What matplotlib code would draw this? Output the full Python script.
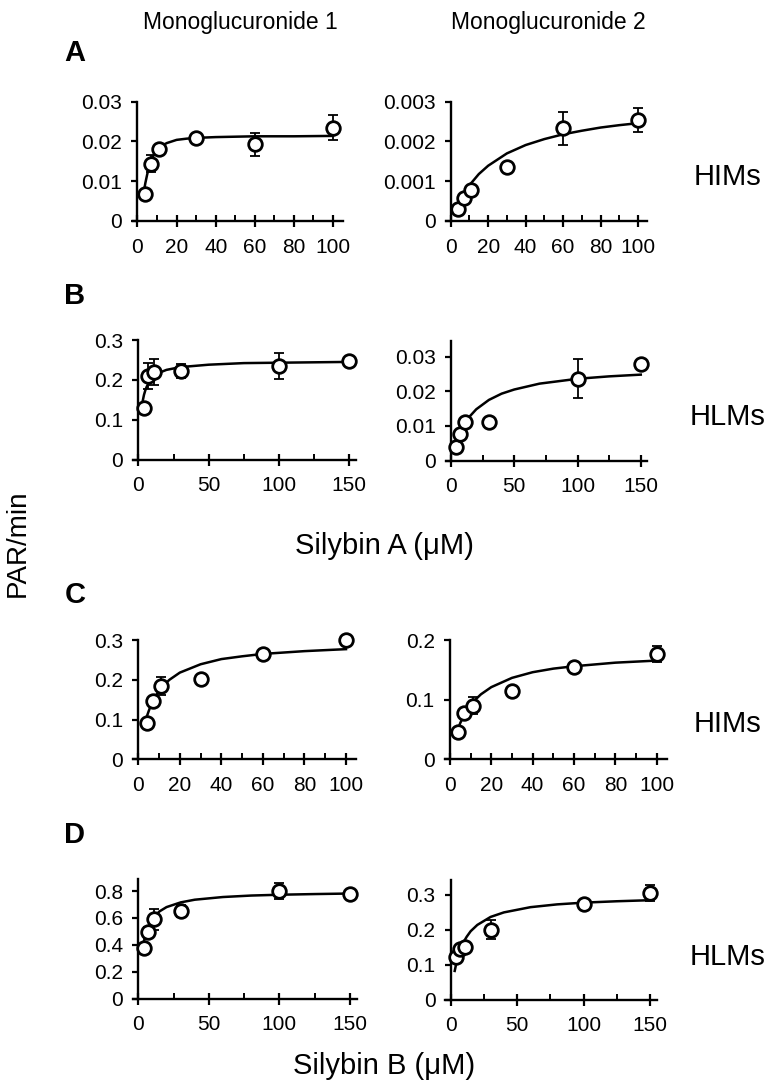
import numpy as np
import matplotlib.pyplot as plt
from matplotlib.ticker import FixedLocator

plt.rcParams['font.family'] = ['Liberation Sans', 'DejaVu Sans']

W, H = 771, 1089

# silybin concentrations (uM)
conc_100 = [4, 7, 11, 30, 60, 100]
conc_150 = [4, 7, 11, 30, 100, 150]

# measured rates (PAR/min) and SD, one list per panel
a1_y = [0.0068, 0.0144, 0.0180, 0.0209, 0.0193, 0.0235]
a1_err = [0, 0.0021, 0, 0, 0.0029, 0.0031]
a2_y = [0.00030, 0.00059, 0.00079, 0.00137, 0.00233, 0.00254]
a2_err = [0, 0, 0, 0, 0.00042, 0.00030]
b1_y = [0.130, 0.210, 0.220, 0.222, 0.235, 0.247]
b1_err = [0, 0.033, 0.033, 0.017, 0.033, 0]
b2_y = [0.0040, 0.0076, 0.0111, 0.0111, 0.0236, 0.0279]
b2_err = [0, 0, 0, 0, 0.0056, 0]
c1_y = [0.092, 0.147, 0.184, 0.203, 0.266, 0.300]
c1_err = [0, 0, 0.023, 0, 0, 0]
c2_y = [0.045, 0.078, 0.090, 0.115, 0.155, 0.1765]
c2_err = [0, 0, 0.014, 0, 0, 0.014]
d1_y = [0.376, 0.494, 0.589, 0.652, 0.802, 0.777]
d1_err = [0, 0.04, 0.08, 0.045, 0.06, 0.03]
d2_y = [0.122, 0.146, 0.150, 0.200, 0.274, 0.307]
d2_err = [0, 0, 0, 0.027, 0.010, 0.023]

# fitted curves
a1_cx = [3, 4, 5, 6, 7, 8, 10, 12, 15, 20, 25, 30, 40, 60, 80, 100]
a1_cy = [0.0066, 0.0095, 0.0118, 0.0137, 0.0151, 0.0163, 0.0178, 0.0188,
         0.0196, 0.0204, 0.0207, 0.0209, 0.0211, 0.0213, 0.0213, 0.0214]
a2_cx = [3, 5, 7, 10, 15, 20, 30, 40, 50, 60, 70, 80, 90, 100]
a2_cy = [0.00034, 0.00053, 0.00069, 0.00090, 0.00118, 0.00139, 0.00170,
         0.00191, 0.00206, 0.00218, 0.00227, 0.00235, 0.00241, 0.00246]
b1_cx = [3, 4, 5, 6, 8, 10, 15, 20, 30, 50, 75, 100, 125, 150]
b1_cy = [0.145, 0.162, 0.174, 0.183, 0.196, 0.205, 0.218, 0.225, 0.232,
         0.238, 0.242, 0.243, 0.244, 0.245]
b2_cx = [3, 5, 7, 10, 15, 20, 30, 40, 50, 70, 100, 125, 150]
b2_cy = [0.0040, 0.0061, 0.0079, 0.0101, 0.0128, 0.0148, 0.0175, 0.0193,
         0.0205, 0.0222, 0.0236, 0.0243, 0.0248]
c1_cx = [3, 4, 5, 6, 8, 10, 12, 15, 20, 30, 40, 50, 60, 80, 100]
c1_cy = [0.087, 0.106, 0.121, 0.135, 0.156, 0.172, 0.185, 0.200, 0.218,
         0.239, 0.252, 0.259, 0.265, 0.272, 0.277]
c2_cx = [3, 4, 5, 6, 8, 10, 12, 15, 20, 30, 40, 50, 60, 80, 100]
c2_cy = [0.042, 0.052, 0.061, 0.068, 0.081, 0.091, 0.099, 0.109, 0.121,
         0.1365, 0.146, 0.152, 0.156, 0.162, 0.1655]
d1_cx = [3, 4, 5, 6, 8, 10, 12, 15, 20, 30, 40, 60, 80, 100, 125, 150]
d1_cy = [0.369, 0.427, 0.471, 0.505, 0.557, 0.593, 0.619, 0.649, 0.681,
         0.716, 0.736, 0.756, 0.767, 0.773, 0.778, 0.782]
d2_cx = [3, 4, 5, 6, 8, 10, 12, 15, 20, 30, 40, 60, 80, 100, 125, 150]
d2_cy = [0.082, 0.100, 0.115, 0.129, 0.150, 0.167, 0.180, 0.196, 0.214,
         0.237, 0.250, 0.265, 0.273, 0.278, 0.282, 0.285]

# y ticks per panel
a1_ticks = [0, 0.01, 0.02, 0.03]
a1_labels = ['0', '0.01', '0.02', '0.03']
a2_ticks = [0, 0.001, 0.002, 0.003]
a2_labels = ['0', '0.001', '0.002', '0.003']
b1_ticks = [0, 0.1, 0.2, 0.3]
b1_labels = ['0', '0.1', '0.2', '0.3']
b2_ticks = [0, 0.01, 0.02, 0.03]
b2_labels = ['0', '0.01', '0.02', '0.03']
c1_ticks = [0, 0.1, 0.2, 0.3]
c1_labels = ['0', '0.1', '0.2', '0.3']
c2_ticks = [0, 0.1, 0.2]
c2_labels = ['0', '0.1', '0.2']
d1_ticks = [0, 0.2, 0.4, 0.6, 0.8]
d1_labels = ['0', '0.2', '0.4', '0.6', '0.8']
d2_ticks = [0, 0.1, 0.2, 0.3]
d2_labels = ['0', '0.1', '0.2', '0.3']

col_titles = ['Monoglucuronide 1', 'Monoglucuronide 2']
row_letters = ['A', 'B', 'C', 'D']
row_sources = ['HIMs', 'HLMs', 'HIMs', 'HLMs']

fig = plt.figure(figsize=(W / 100, H / 100), dpi=100)

def add_panel(px, x, y, err, cx, cy, yt, ylab, ytop, xmax):
    # px = (left, top, right, bottom) in pixels
    l, t, r, b = px
    ax = fig.add_axes([l / W, 1 - b / H, (r - l) / W, (b - t) / H])
    ax.plot(cx, cy, color='black', lw=1.8, zorder=2)
    ax.errorbar(x, y, yerr=err, fmt='none', ecolor='black', elinewidth=1.3,
                capsize=3.4, capthick=1.3, zorder=3)
    ax.plot(x, y, 'o', ms=9.8, mfc='white', mec='black', mew=2.0,
            zorder=4, clip_on=False)
    if xmax == 100:
        ax.set_xlim(-2.4, 105)
        ax.xaxis.set_major_locator(FixedLocator([0, 20, 40, 60, 80, 100]))
        ax.xaxis.set_minor_locator(FixedLocator([10, 30, 50, 70, 90]))
    else:
        ax.set_xlim(-4, 155)
        ax.xaxis.set_major_locator(FixedLocator([0, 50, 100, 150]))
        ax.xaxis.set_minor_locator(FixedLocator([25, 75, 125]))
    ax.set_ylim(0, ytop)
    ax.set_yticks(yt)
    ax.set_yticklabels(ylab)
    for s in ['top', 'right']:
        ax.spines[s].set_visible(False)
    ax.spines['left'].set_position(('data', 0))
    ax.spines['left'].set_linewidth(1.7)
    ax.spines['bottom'].set_linewidth(1.7)
    ax.tick_params(axis='x', which='major', direction='inout', length=8,
                   width=1.6, labelsize=15, pad=8)
    ax.tick_params(axis='x', which='minor', direction='in', length=4,
                   width=1.4)
    ax.tick_params(axis='y', direction='out', length=4, width=1.6,
                   labelsize=15, pad=7)
    ax.patch.set_alpha(0)
    return ax

add_panel((132.8, 101.7, 342.8, 221), conc_100, a1_y, a1_err, a1_cx, a1_cy,
          a1_ticks, a1_labels, 0.03, 100)
add_panel((446.2, 101.7, 647.4, 221), conc_100, a2_y, a2_err, a2_cx, a2_cy,
          a2_ticks, a2_labels, 0.003, 100)
add_panel((132.7, 340, 356.4, 459.5), conc_150, b1_y, b1_err, b1_cx, b1_cy,
          b1_ticks, b1_labels, 0.3, 150)
add_panel((445.9, 340.7, 647.1, 460.5), conc_150, b2_y, b2_err, b2_cx, b2_cy,
          b2_ticks, b2_labels, 0.0346, 150)
add_panel((133.3, 640, 356.4, 759.3), conc_100, c1_y, c1_err, c1_cx, c1_cy,
          c1_ticks, c1_labels, 0.3, 100)
add_panel((445, 640, 667, 759.3), conc_100, c2_y, c2_err, c2_cx, c2_cy,
          c2_ticks, c2_labels, 0.2, 100)
add_panel((132.7, 879.3, 357, 998.5), conc_150, d1_y, d1_err, d1_cx, d1_cy,
          d1_ticks, d1_labels, 0.888, 150)
add_panel((445.4, 880, 656.7, 999.5), conc_150, d2_y, d2_err, d2_cx, d2_cy,
          d2_ticks, d2_labels, 0.343, 150)

def ftext(x, y, s, **kw):
    fig.text(x / W, 1 - y / H, s, **kw)

ftext(240, 22, col_titles[0], fontsize=16.5, ha='center', va='center')
ftext(548, 22, col_titles[1], fontsize=16.5, ha='center', va='center')
for letter, yy in zip(row_letters, [53, 296, 595, 835]):
    ftext(75, yy, letter, fontsize=21, fontweight='bold', ha='center', va='center')
for src, yy, xx in zip(row_sources, [177, 417, 724, 957], [694, 690, 694, 690]):
    ftext(xx, yy, src, fontsize=21, ha='left', va='center')
ftext(384, 546, 'Silybin A (μM)', fontsize=21, ha='center', va='center')
ftext(384, 1066, 'Silybin B (μM)', fontsize=21, ha='center', va='center')
ftext(18, 543, 'PAR/min', fontsize=20, rotation=90, ha='center', va='center')

fig.savefig('out.png', dpi=100)
